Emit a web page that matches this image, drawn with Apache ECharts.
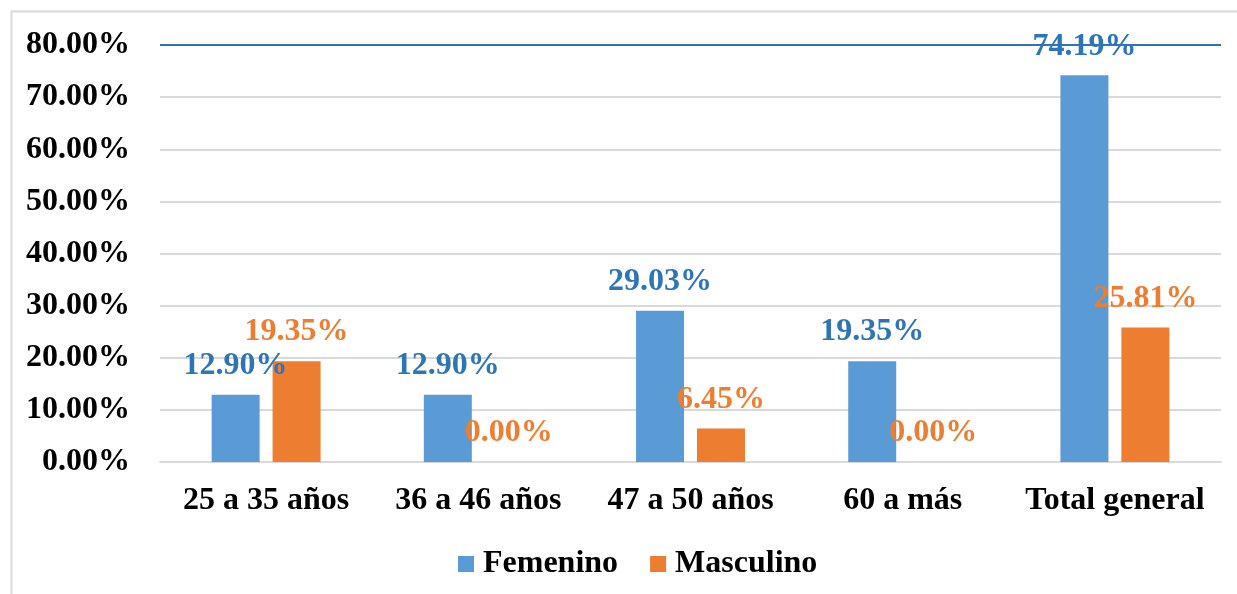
<!DOCTYPE html>
<html>
<head>
<meta charset="utf-8">
<script src="https://cdn.jsdelivr.net/npm/echarts@6/dist/echarts.min.js"></script>
<style>
  html, body { margin: 0; padding: 0; background: #fff; }
  #chart { width: 1237px; height: 594px; }
</style>
</head>
<body>
<div id="chart"></div>
<script>
const categories = ["25 a 35 años", "36 a 46 años", "47 a 50 años", "60 a más", "Total general"];
const femenino = [12.90, 12.90, 29.03, 19.35, 74.19];
const masculino = [19.35, 0.00, 6.45, 0.00, 25.81];
const yTicks = [0, 10, 20, 30, 40, 50, 60, 70, 80];

const font = "'Liberation Serif', 'Times New Roman', serif";

const chart = echarts.init(document.getElementById("chart"));

// last split line (80%) is blue, the rest light gray
const splitColors = yTicks.map((t, i) => (i === yTicks.length - 1 ? "#2E75B6" : "#D9D9D9"));

const labelStyle = (color) => ({
  show: true,
  position: "top",
  distance: 13,
  fontFamily: font,
  fontWeight: "bold",
  fontSize: 32,
  color: color,
  formatter: (p) => p.value.toFixed(2) + "%",
});

const option = {
  animation: false,
  backgroundColor: "#fff",
  graphic: [
    {
      type: "polyline",
      shape: { points: [[11.5, 700], [11.5, 11.5], [1300, 11.5]] },
      style: { stroke: "#D9D9D9", lineWidth: 2, fill: null },
      silent: true,
    },
  ],
  grid: { left: 160, right: 16, top: 45, bottom: 132 },
  legend: {
    bottom: 9,
    left: 453,
    itemWidth: 16,
    itemHeight: 16,
    itemGap: 32,
    icon: "rect",
    textStyle: {
      fontFamily: font,
      fontWeight: "bold",
      fontSize: 32,
      color: "#000",
      padding: [0, 0, 0, 4],
    },
    data: ["Femenino", "Masculino"],
  },
  xAxis: {
    type: "category",
    data: categories,
    axisLine: { show: true, lineStyle: { color: "#D9D9D9", width: 2 } },
    axisTick: { show: false },
    axisLabel: {
      interval: 0,
      margin: 23,
      fontFamily: font,
      fontWeight: "bold",
      fontSize: 32,
      color: "#000",
    },
  },
  yAxis: {
    type: "value",
    min: 0,
    max: 80,
    interval: 10,
    axisLine: { show: false },
    axisTick: { show: false },
    splitLine: { lineStyle: { color: splitColors, width: 2 } },
    axisLabel: {
      margin: 30,
      fontFamily: font,
      fontWeight: "bold",
      fontSize: 32,
      color: "#000",
      formatter: (v) => v.toFixed(2) + "%",
    },
  },
  series: [
    {
      name: "Femenino",
      type: "bar",
      data: femenino,
      barWidth: 48,
      barGap: "27%",
      itemStyle: { color: "#5B9BD5" },
      label: labelStyle("#2E75B6"),
    },
    {
      name: "Masculino",
      type: "bar",
      data: masculino,
      barWidth: 48,
      itemStyle: { color: "#ED7D31" },
      label: labelStyle("#ED7D31"),
    },
  ],
};

chart.setOption(option);
</script>
</body>
</html>
